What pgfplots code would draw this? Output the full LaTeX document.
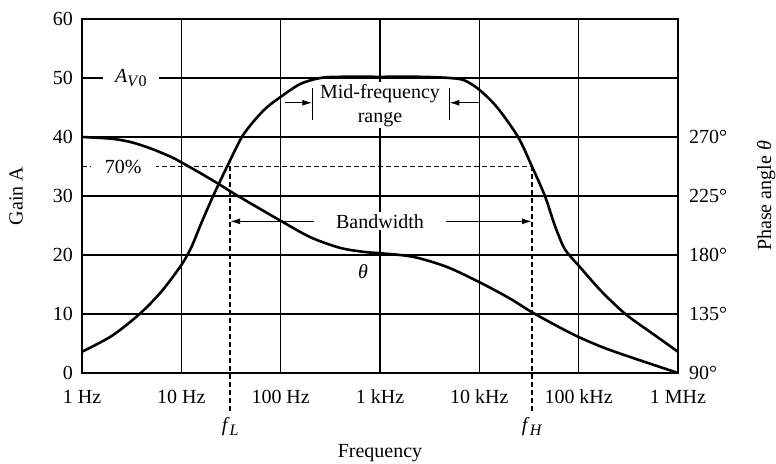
\documentclass[border=0pt]{standalone}
\usepackage{fontspec}
\setmainfont{Liberation Serif}
\usepackage{pgfplots}
\pgfplotsset{compat=1.18}
\pgfplotsset{/pgf/number format/assume math mode=true}
\usetikzlibrary{arrows.meta}

\tikzset{
  arr/.style={-{Latex[length=5pt,width=3pt]}, line width=0.6pt},
  dsh/.style={line width=0.7pt, dash pattern=on 2.5pt off 1.5pt},
}

\begin{document}
\begin{tikzpicture}
% gain axis
\begin{axis}[name=ax,
  scale only axis, width=298pt, height=177pt,
  xmode=log, xmin=1, xmax=1000000,
  ymin=0, ymax=60,
  major tick length=0pt, minor tick length=0pt,
  axis line style={line width=1pt},
  grid=major, major grid style={black, line width=0.6pt},
  xtick={1,10,100,1000,10000,100000,1000000},
  xticklabels={1 Hz,10 Hz,100 Hz,1 kHz,10 kHz,100 kHz,1 MHz},
  xticklabel style={yshift=-5pt},
  ytick={0,10,...,60},
  yticklabel style={xshift=-1pt},
  xlabel={Frequency}, ylabel={Gain A},
  xlabel style={at={(axis description cs:0.5,0)}, anchor=center, yshift=-40pt},
  ylabel style={at={(axis description cs:0,0.5)}, anchor=south, yshift=26pt},
  clip=false,
]
  % 70% level and corner frequencies
  \draw[dsh] (axis cs:1,35) -- (axis cs:33900,35);
  \draw[dsh] (axis cs:31,35) -- (axis cs:31,-6.6);
  \draw[dsh] (axis cs:33900,35) -- (axis cs:33900,-6.6);
  \node at (axis cs:31,-9.0) {\textit{f}\raisebox{-0.45ex}{\footnotesize\textit{L}}};
  \node at (axis cs:33900,-9.0) {\textit{f}\raisebox{-0.45ex}{\footnotesize\textit{H}}};
  \node[fill=white, inner xsep=7pt, inner ysep=1pt] at (axis cs:2.6,35) {70\%};
  \node[fill=white, inner xsep=6pt, inner ysep=1pt] at (axis cs:3.1,50)
    {\textit{A}\raisebox{-0.45ex}{\footnotesize\textit{V}0}};

  % mid-frequency range
  \draw[line width=0.6pt] (axis cs:208,48.3) -- (axis cs:208,42.9);
  \draw[line width=0.6pt] (axis cs:5000,48.3) -- (axis cs:5000,42.9);
  \draw[arr] (axis cs:110,45.8) -- (axis cs:208,45.8);
  \draw[arr] (axis cs:10000,45.8) -- (axis cs:5000,45.8);
  \node[fill=white, align=center, inner sep=1pt] at (axis cs:1000,45.4) {Mid-frequency\\range};

  % bandwidth
  \draw[{Latex[length=5pt,width=3pt]}-{Latex[length=5pt,width=3pt]}, line width=0.6pt]
    (axis cs:31,25.7) -- (axis cs:33900,25.7);
  \node[fill=white, inner xsep=11pt, inner ysep=1pt] at (axis cs:1000,25.7) {Bandwidth};
  \node at (axis cs:676,17.1) {\textit{θ}};

  % gain A
  \addplot[line width=1.3pt, smooth, tension=0.5] coordinates {
    (1,3.6) (2,6.3) (3.8,10) (6.3,13.8) (10,18.3) (12.6,21.3) (15.8,25.3)
    (20.9,30) (29.5,35.3) (40.7,40) (55,42.9) (72.4,45) (100,46.8)
    (158,49) (251,50) (398,50.2) (1000,50.2) (2512,50.2) (5012,50)
    (7079,49.6) (10000,48) (15136,45) (24547,40) (33884,35) (45709,30)
    (57544,25) (70795,21.3) (85114,19.5) (100000,18.2) (165959,14)
    (295121,10) (562341,6.6) (1000000,3.6)
  };
\end{axis}

% phase axis
\begin{axis}[
  scale only axis, width=298pt, height=177pt,
  xmode=log, xmin=1, xmax=1000000,
  ymin=90, ymax=360,
  major tick length=0pt, minor tick length=0pt,
  axis line style={line width=1pt},
  axis y line*=right, axis x line=none,
  ytick={90,135,180,225,270},
  yticklabel={\pgfmathprintnumber{\tick}°},
  yticklabel style={xshift=2pt},
  ylabel={Phase angle \textit{θ}},
  ylabel style={at={(axis description cs:1,0.5)}, anchor=north, yshift=-36pt},
]
  \addplot[line width=1.3pt, smooth, tension=0.5] coordinates {
    (1,270) (2,268.65) (3.16,265.95) (5.01,261) (7.94,254.7) (10,250.65)
    (15.85,242.1) (24.5,233.55) (37.2,225) (100,206.1) (200,193.5)
    (398,185.4) (708,182.25) (1000,181.35) (2138,178.65) (4677,171)
    (10000,159.3) (19953,147.15) (33884,136.35) (63096,125.1)
    (100000,117.45) (177828,109.35) (331131,102.15) (1000000,90)
  };
\end{axis}

\pgfresetboundingbox
\path[use as bounding box] ([xshift=-41pt,yshift=-45.5pt]ax.south west)
  rectangle ([xshift=49pt,yshift=9.5pt]ax.north east);
\end{tikzpicture}
\end{document}
